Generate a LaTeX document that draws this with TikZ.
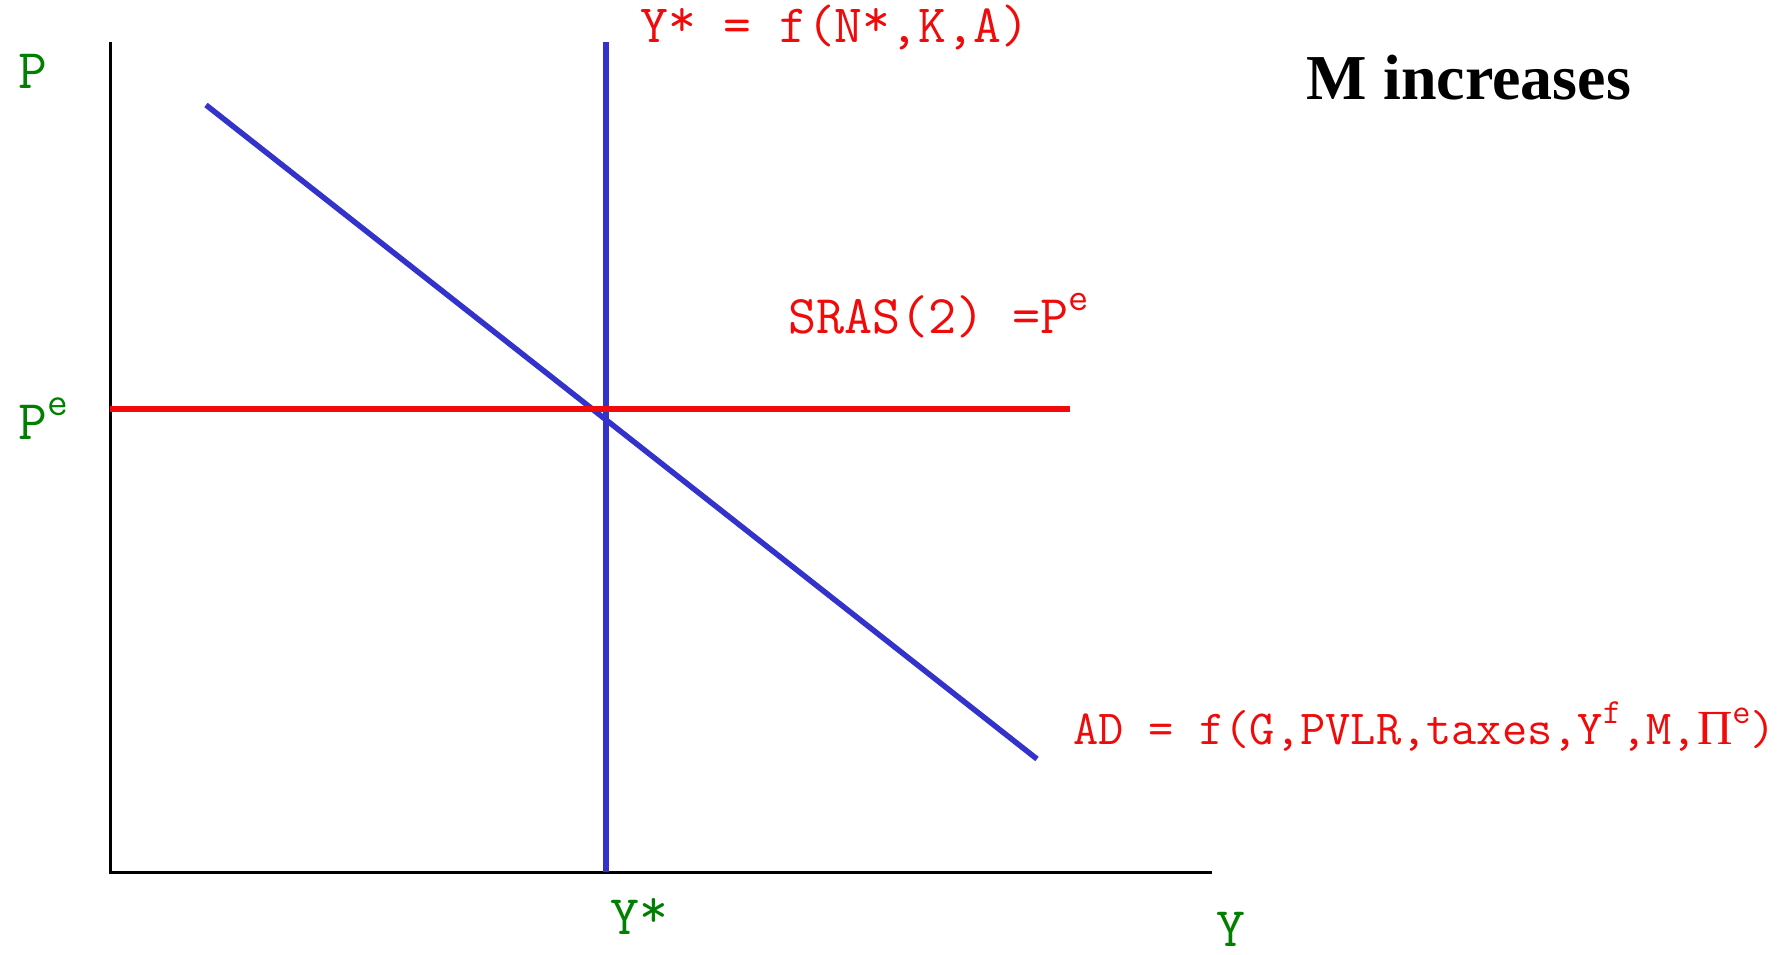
\documentclass[tikz,border=0pt]{standalone}
\usepackage{fontspec}
\setmainfont{Liberation Serif}
\usetikzlibrary{positioning}
\definecolor{adblue}{RGB}{51, 51, 204}
\definecolor{axgreen}{RGB}{0, 128, 0}
\definecolor{srasred}{RGB}{240, 10, 10}
\newcommand{\supx}[1]{\raisebox{0.42em}{\scalebox{0.72}{#1}}}
\newcommand{\hstar}{\raisebox{0.12em}{*}}

\begin{document}
\begin{tikzpicture}[
      x=1pt, y=-1pt,
      axis/.style={line width=3pt, black},
      curve/.style={line width=5.5pt, adblue},
      sras/.style={line width=6pt, srasred},
      axlabel/.style={font=\ttfamily\fontsize{56}{60}\selectfont, text=axgreen, inner sep=0pt},
      eqlabel/.style={font=\ttfamily\fontsize{#1}{#1}\selectfont, text=srasred, inner sep=0pt},
      title/.style={font=\bfseries\fontsize{64}{70}\selectfont, inner sep=0pt}
    ]
      \useasboundingbox (0,0) rectangle (1788,955);

      % axes
      \coordinate (origin) at (110,872);
      \coordinate (ptop) at (110,42);
      \coordinate (yend) at (1212,872);
      \draw[axis] (ptop) -- (origin) -- (yend);

      % long-run output
      \coordinate (lrtop) at (606,42);
      \coordinate (lrbot) at (606,872);
      \draw[curve] (lrtop) -- (lrbot);

      % aggregate demand
      \coordinate (adtop) at (206,105);
      \coordinate (adbot) at (1037,759);
      \draw[curve] (adtop) -- (adbot);

      % short-run supply
      \coordinate (srleft) at (110,409);
      \coordinate (srright) at (1070,409);
      \draw[sras] (srleft) -- (srright);

      \node[axlabel, anchor=base west] (plab) at (18,89) {P};
      \node[axlabel, anchor=base west] (pelab) at (18,439) {P\supx{e}};
      \node[axlabel, anchor=base west] (ystarlab) at (610,934) {Y\hstar};
      \node[axlabel, anchor=base west] (ylab) at (1216,946) {Y};

      \node[eqlabel=54, anchor=base west] (lrlab) at (640,43) {Y\hstar{} = f(N\hstar,K,A)};
      \node[eqlabel=54.5, anchor=base west] (sraslab) at (788,333) {SRAS(2) =P\supx{e}};
      \node[eqlabel=49, anchor=base west] (adlab) at (1073,744) {AD = f(G,PVLR,taxes,Y\supx{f},M,{\rmfamily Π}\supx{e})};

      \node[title] (mtitle) at (1469,78) {M increases};
    \end{tikzpicture}
\end{document}
